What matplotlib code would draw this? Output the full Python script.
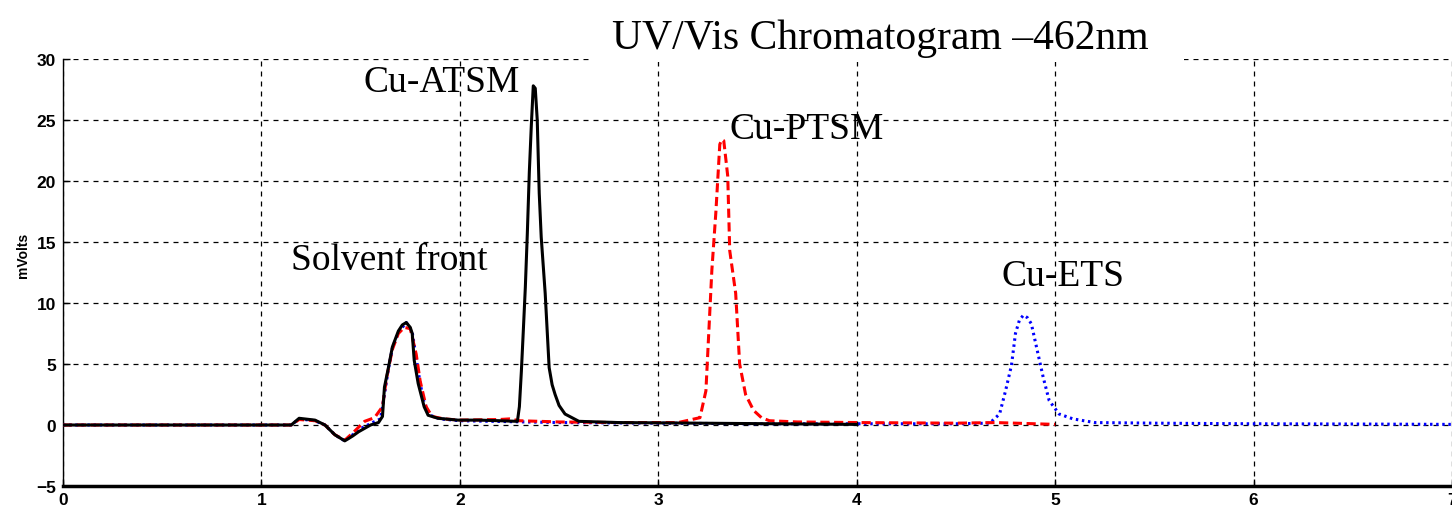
import matplotlib
matplotlib.use("Agg")
import matplotlib.pyplot as plt
from matplotlib.patches import Rectangle

# retention time (min) / detector signal (mV), read per trace
atsm_t = [0, 1.15, 1.19, 1.27, 1.32, 1.37, 1.42, 1.46, 1.49, 1.55, 1.59, 1.61, 1.62, 1.64, 1.66,
          1.69, 1.71, 1.73, 1.75, 1.76, 1.77, 1.79, 1.82, 1.84, 1.89, 1.99, 2.1, 2.2, 2.29, 2.30,
          2.31, 2.32, 2.33, 2.34, 2.35, 2.36, 2.37, 2.38, 2.39, 2.40, 2.41, 2.43, 2.45, 2.465,
          2.48, 2.50, 2.53, 2.6, 2.8, 3.2, 3.6, 4.0]
atsm_mv = [0, 0, 0.55, 0.4, 0.0, -0.8, -1.3, -0.9, -0.55, 0.0, 0.2, 0.7, 3.1, 4.7, 6.4,
           7.7, 8.2, 8.4, 8.0, 7.5, 5.3, 3.4, 1.5, 0.8, 0.55, 0.4, 0.4, 0.35, 0.3, 1.5,
           4.4, 7.8, 11.3, 15.7, 20.7, 24.5, 27.8, 27.6, 25.0, 19.0, 15.4, 10.8, 4.7, 3.3,
           2.5, 1.6, 0.9, 0.3, 0.2, 0.15, 0.1, 0.05]

ptsm_t = [0, 1.15, 1.19, 1.27, 1.32, 1.37, 1.42, 1.47, 1.52, 1.57, 1.61, 1.63, 1.66, 1.69, 1.72,
          1.75, 1.78, 1.80, 1.83, 1.86, 1.92, 2.0, 2.2, 2.25, 2.3, 2.5, 2.8, 3.1, 3.21, 3.24,
          3.25, 3.27, 3.29, 3.31, 3.32, 3.33, 3.35, 3.36, 3.39, 3.41, 3.44, 3.48, 3.52, 3.56,
          3.7, 4.0, 4.5, 4.7, 5.0]
ptsm_mv = [0, 0, 0.45, 0.35, 0.0, -0.8, -1.25, -0.5, 0.3, 0.6, 1.5, 3.8, 6.2, 7.5, 8.0,
           7.9, 5.8, 3.6, 1.5, 0.7, 0.5, 0.4, 0.45, 0.5, 0.35, 0.25, 0.2, 0.2, 0.6, 2.8,
           6.1, 12.7, 17.4, 23.0, 23.4, 23.3, 20.4, 14.3, 10.8, 5.0, 2.5, 1.2, 0.6, 0.35,
           0.25, 0.2, 0.15, 0.2, 0.05]

ets_t = [0, 1.15, 1.19, 1.27, 1.32, 1.37, 1.42, 1.46, 1.50, 1.56, 1.60, 1.62, 1.64, 1.66, 1.69,
         1.73, 1.76, 1.78, 1.80, 1.82, 1.85, 1.9, 2.0, 2.5, 3.0, 3.5, 4.0, 4.5, 4.67, 4.72,
         4.75, 4.78, 4.80, 4.82, 4.84, 4.86, 4.88, 4.91, 4.94, 4.97, 5.02, 5.09, 5.2, 5.5, 6.0,
         6.5, 7.0]
ets_mv = [0, 0, 0.5, 0.35, 0.0, -0.8, -1.3, -0.8, -0.3, 0.2, 0.5, 2.5, 4.6, 6.3, 7.6,
          8.4, 7.6, 5.5, 3.4, 1.8, 0.8, 0.5, 0.35, 0.2, 0.15, 0.1, 0.1, 0.1, 0.15, 0.9,
          2.8, 4.9, 7.5, 8.6, 9.0, 8.8, 8.3, 6.1, 3.9, 2.0, 0.9, 0.5, 0.2, 0.15, 0.1,
          0.08, 0.05]

peak_names = ["Solvent front", "Cu-ATSM", "Cu-PTSM", "Cu-ETS"]
peak_label_t = [1.15, 1.515, 3.36, 4.73]
peak_label_mv = [12.8, 27.4, 23.5, 11.5]

xticks = [0, 1, 2, 3, 4, 5, 6, 7]
yticks = [-5, 0, 5, 10, 15, 20, 25, 30]

fig = plt.figure(figsize=(14.52, 5.10), dpi=100)
ax = fig.add_axes([63 / 1452, 1 - 487 / 510, 1 - 63 / 1452, (487 - 60) / 510])

ax.plot(ets_t, ets_mv, color="blue", lw=2.2, linestyle=(0, (0.8, 1.2)), zorder=3)
ax.plot(ptsm_t, ptsm_mv, color="red", lw=2.2, linestyle=(0, (3, 1.5)), zorder=4)
ax.plot(atsm_t, atsm_mv, color="black", lw=2.2, zorder=5)

for name, t, mv in zip(peak_names, peak_label_t, peak_label_mv):
    ax.text(t, mv, name, fontsize=27, family="Liberation Serif", ha="left", va="baseline", zorder=6)

ax.set_xlim(0, (1452 - 63) / 199.3)
ax.set_ylim(-5, 30)
ax.set_xticks(xticks)
ax.set_yticks(yticks)
ax.grid(True, color="black", lw=0.9, linestyle=(0, (4, 4)))
ax.set_axisbelow(True)
for side in ["top", "right"]:
    ax.spines[side].set_visible(False)
ax.spines["left"].set_linewidth(1.0)
ax.spines["bottom"].set_linewidth(2.5)
ax.tick_params(direction="in", length=5, width=1)
ax.tick_params(axis="y", pad=5)
ax.tick_params(axis="x", pad=4)
for lab in ax.get_xticklabels() + ax.get_yticklabels():
    lab.set_fontweight("bold")
    lab.set_fontsize(12.5)
    lab.set_family("Liberation Sans")

fig.text(23 / 1452, 1 - 255 / 510, "mVolts", rotation=90, fontsize=10, fontweight="bold",
         family="Liberation Sans", ha="center", va="center")

# white panel behind the title, over the top grid line
fig.add_artist(Rectangle((590 / 1452, 1 - 63 / 510), 594 / 1452, 63 / 510,
                         transform=fig.transFigure, facecolor="white", edgecolor="none", zorder=10))
fig.text(612 / 1452, 1 - 49 / 510, "UV/Vis Chromatogram \u2013462nm", fontsize=30,
         family="Liberation Serif", ha="left", va="baseline", zorder=11)

fig.savefig("out.png", dpi=100)
